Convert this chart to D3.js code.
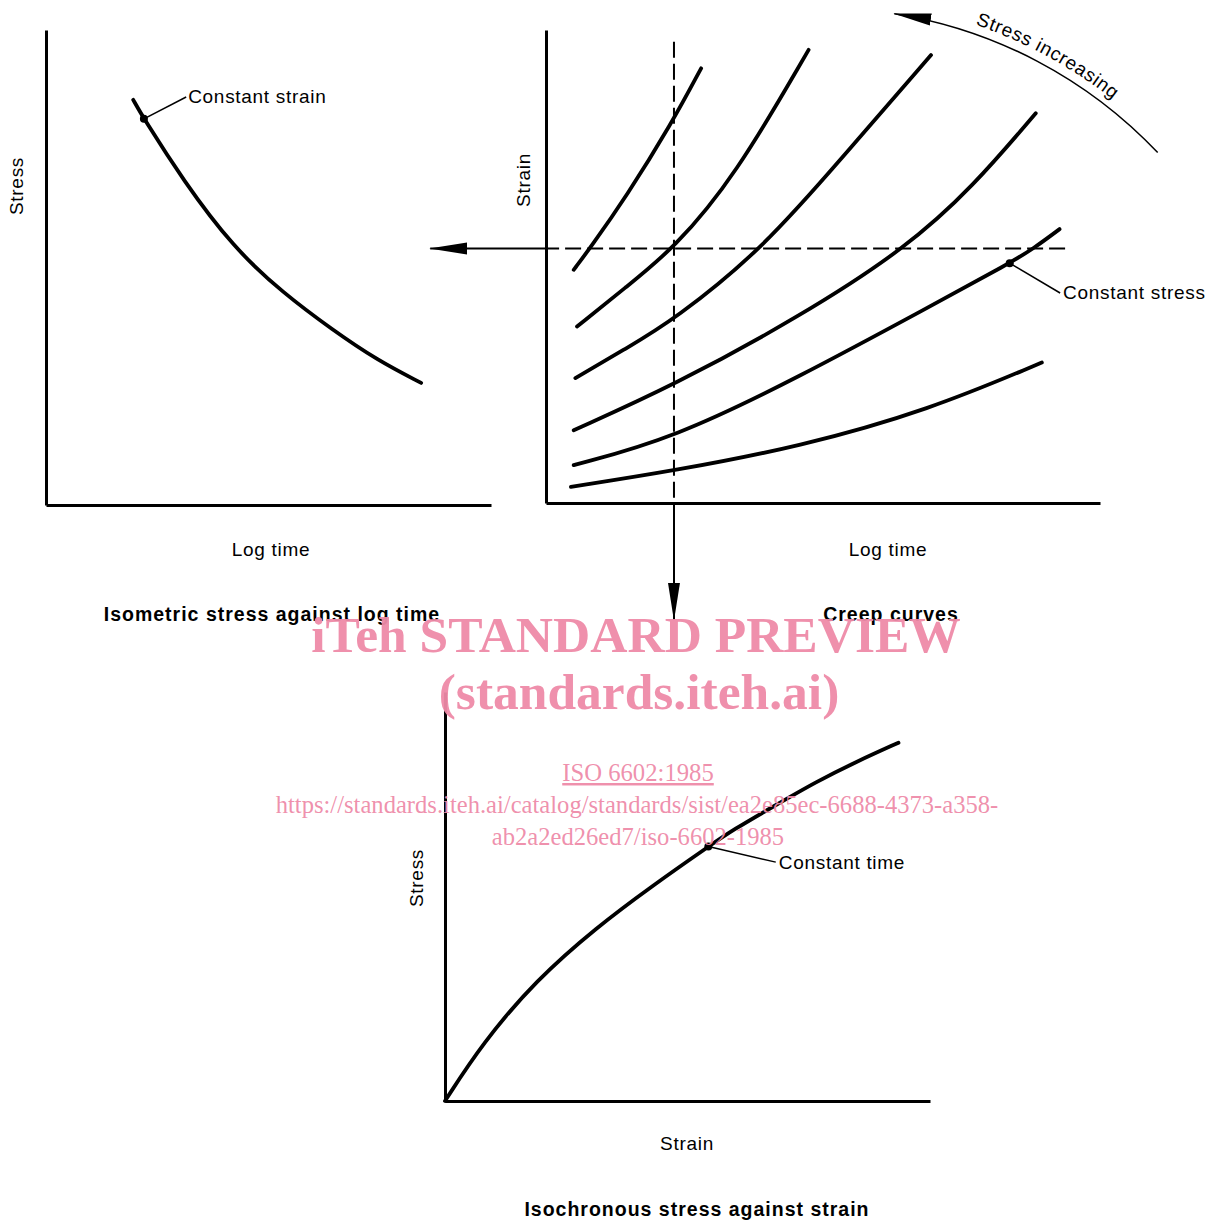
<!DOCTYPE html>
<html>
<head>
<meta charset="utf-8">
<script src="https://cdn.jsdelivr.net/npm/d3@7"></script>
<style>
  body { margin: 0; background: #fff; }
  svg text { font-family: "Liberation Sans", Arial, sans-serif; }
</style>
</head>
<body>
<svg id="chart" width="1216" height="1224"></svg>
<script>
// isometric stress vs log time (panel 1, 0..100 units)
const isometricCurve = [[19.6,85.3],[22.0,81.3],[30.8,68.4],[42.0,54.3],[53.3,44.6],[64.5,36.8],[74.4,30.5],[84.3,25.7]];
const constantStrainPoint = [22.0, 81.3];
const constantStrainLabel = [31.5, 85.9];

// creep curves, strain vs log time (panel 2)
const creepCurves = [
  [[5.0,49.3],[7.9,53.8],[14.5,64.8],[22.7,80.3],[28.0,91.9]],
  [[5.6,37.3],[14.5,45.7],[23.1,53.8],[34.1,69.0],[47.4,95.8]],
  [[5.3,26.4],[14.5,32.7],[23.1,38.7],[39.2,53.8],[53.6,73.2],[69.5,94.7]],
  [[5.0,15.4],[23.1,24.9],[45.8,39.4],[64.9,53.8],[77.1,66.9],[88.4,82.4]],
  [[5.0,8.0],[23.1,13.7],[45.8,26.7],[69.2,41.5],[83.7,50.7],[88.0,53.8],[92.7,57.9]],
  [[4.5,3.4],[23.1,6.8],[45.8,11.9],[69.2,19.7],[89.5,29.7]]
];
const constantStressPoint = [83.7, 50.7];
const constantStressLabel = [92.8, 44.4];
const constantTime = 23.1;     // vertical cut
const constantStrain = 53.8;   // horizontal cut

// isochronous stress vs strain (panel 3)
const isochronousCurve = [[0,0],[7.7,14.1],[18.8,29.6],[31.4,42.6],[42.5,52.4],[54.3,62.2],[59.4,66.3],[67.7,72.0],[76.6,78.1],[84.9,83.0],[93.5,87.6]];
const constantTimePoint = [54.3, 62.2];
const constantTimeLabel = [68.2, 58.4];

const watermark = [
  {text: "iTeh STANDARD PREVIEW", x: 636, y: 652, size: 51.5, bold: true},
  {text: "(standards.iteh.ai)", x: 639, y: 709, size: 51.5, bold: true},
  {text: "ISO 6602:1985", x: 638, y: 781, size: 24.7, bold: false, underline: true},
  {text: "https://standards.iteh.ai/catalog/standards/sist/ea2e85ec-6688-4373-a358-", x: 637, y: 813, size: 24.6, bold: false},
  {text: "ab2a2ed26ed7/iso-6602-1985", x: 638, y: 845, size: 24.6, bold: false}
];

const svg = d3.select("#chart");

const defs = svg.append("defs");
defs.append("marker")
  .attr("id", "head")
  .attr("markerUnits", "userSpaceOnUse")
  .attr("viewBox", "0 -7 38 14")
  .attr("markerWidth", 38).attr("markerHeight", 14)
  .attr("refX", 37).attr("refY", 0)
  .attr("orient", "auto")
  .append("path").attr("d", "M0,-6 L38,0 L0,6 Z").attr("fill", "#000");

function panel(x0, x1, yBottom, yTop) {
  const x = d3.scaleLinear().domain([0, 100]).range([x0, x1]);
  const y = d3.scaleLinear().domain([0, 100]).range([yBottom, yTop]);
  const g = svg.append("g");
  g.append("g").attr("transform", `translate(0,${yBottom})`)
    .call(d3.axisBottom(x).ticks(0).tickSizeOuter(0));
  g.append("g").attr("transform", `translate(${x0},0)`)
    .call(d3.axisLeft(y).ticks(0).tickSizeOuter(0));
  g.selectAll(".domain").attr("stroke", "#000").attr("stroke-width", 3);
  return {x, y, g};
}

function curve(p, data, w) {
  const line = d3.line().x(d => p.x(d[0])).y(d => p.y(d[1])).curve(d3.curveBasis);
  p.g.append("path").datum(data).attr("d", line)
    .attr("fill", "none").attr("stroke", "#000").attr("stroke-width", w || 3.8)
    .attr("stroke-linecap", "round");
}

function callout(p, pt, lab, text, tx, ty) {
  p.g.append("line")
    .attr("x1", p.x(pt[0])).attr("y1", p.y(pt[1]))
    .attr("x2", p.x(lab[0])).attr("y2", p.y(lab[1]))
    .attr("stroke", "#000").attr("stroke-width", 1.5);
  p.g.append("circle").attr("cx", p.x(pt[0])).attr("cy", p.y(pt[1])).attr("r", 4).attr("fill", "#000");
  p.g.append("text").attr("x", p.x(lab[0]) + tx).attr("y", p.y(lab[1]) + ty)
    .attr("font-size", 19).attr("letter-spacing", 0.7).text(text);
}

function label(x, y, text, opts) {
  opts = opts || {};
  const t = svg.append("text").attr("text-anchor", "middle").attr("font-size", opts.bold ? 19.5 : 19)
    .attr("letter-spacing", opts.bold ? 1 : 0.7)
    .attr("font-weight", opts.bold ? "bold" : "normal").text(text);
  if (opts.rotate) t.attr("transform", `translate(${x},${y}) rotate(-90)`);
  else t.attr("x", x).attr("y", y);
}

// panel 1
const p1 = panel(46, 491, 505, 30);
curve(p1, isometricCurve);
callout(p1, constantStrainPoint, constantStrainLabel, "Constant strain", 2, 6);
label(23, 186, "Stress", {rotate: true});
label(271, 556, "Log time");
label(272, 621, "Isometric stress against log time", {bold: true});

// panel 2
const p2 = panel(546, 1100, 503, 30);
creepCurves.forEach(c => curve(p2, c));
p2.g.append("line")
  .attr("x1", p2.x(constantTime)).attr("y1", p2.y(97.5))
  .attr("x2", p2.x(constantTime)).attr("y2", p2.y(0))
  .attr("stroke", "#000").attr("stroke-width", 2).attr("stroke-dasharray", "16,6");
p2.g.append("line")
  .attr("x1", p2.x(constantTime)).attr("y1", p2.y(0))
  .attr("x2", p2.x(constantTime)).attr("y2", p2.y(-24.7))
  .attr("stroke", "#000").attr("stroke-width", 2).attr("marker-end", "url(#head)");
p2.g.append("line")
  .attr("x1", p2.x(93.7)).attr("y1", p2.y(constantStrain))
  .attr("x2", p2.x(0)).attr("y2", p2.y(constantStrain))
  .attr("stroke", "#000").attr("stroke-width", 2).attr("stroke-dasharray", "16,6");
p2.g.append("line")
  .attr("x1", p2.x(0)).attr("y1", p2.y(constantStrain))
  .attr("x2", p2.x(-20.9)).attr("y2", p2.y(constantStrain))
  .attr("stroke", "#000").attr("stroke-width", 2).attr("marker-end", "url(#head)");
callout(p2, constantStressPoint, constantStressLabel, "Constant stress", 3, 6);
label(530, 180, "Strain", {rotate: true});
label(888, 556, "Log time");
label(891, 621, "Creep curves", {bold: true});

// stress increasing arc
const cx = 822, cy = 470, r = 462, rad = Math.PI / 180;
const arc = d3.path();
arc.arc(cx, cy, r, -43.4 * rad, -81 * rad, true);
svg.append("path").attr("d", arc.toString()).attr("fill", "none")
  .attr("stroke", "#000").attr("stroke-width", 1.5).attr("marker-end", "url(#head)");
const textArc = d3.path();
textArc.arc(cx, cy, r + 9, -71 * rad, -35 * rad, false);
defs.append("path").attr("id", "textArc").attr("d", textArc.toString());
svg.append("text").attr("font-size", 19).attr("letter-spacing", 0.7)
  .append("textPath").attr("href", "#textArc").text("Stress increasing");

// panel 3
const p3 = panel(445, 930, 1101, 692);
curve(p3, isochronousCurve);
callout(p3, constantTimePoint, constantTimeLabel, "Constant time", 3, 7);
label(423, 878, "Stress", {rotate: true});
label(687, 1150, "Strain");
label(697, 1216, "Isochronous stress against strain", {bold: true});

// watermark
svg.append("g").selectAll("text").data(watermark).enter().append("text")
  .attr("x", d => d.x).attr("y", d => d.y)
  .attr("text-anchor", "middle")
  .style("font-family", "'Liberation Serif', 'Times New Roman', serif")
  .attr("font-size", d => d.size)
  .attr("font-weight", d => d.bold ? "bold" : "normal")
  .attr("text-decoration", d => d.underline ? "underline" : null)
  .attr("fill", "#ee8aa8").attr("fill-opacity", 0.95)
  .text(d => d.text);
</script>
</body>
</html>
